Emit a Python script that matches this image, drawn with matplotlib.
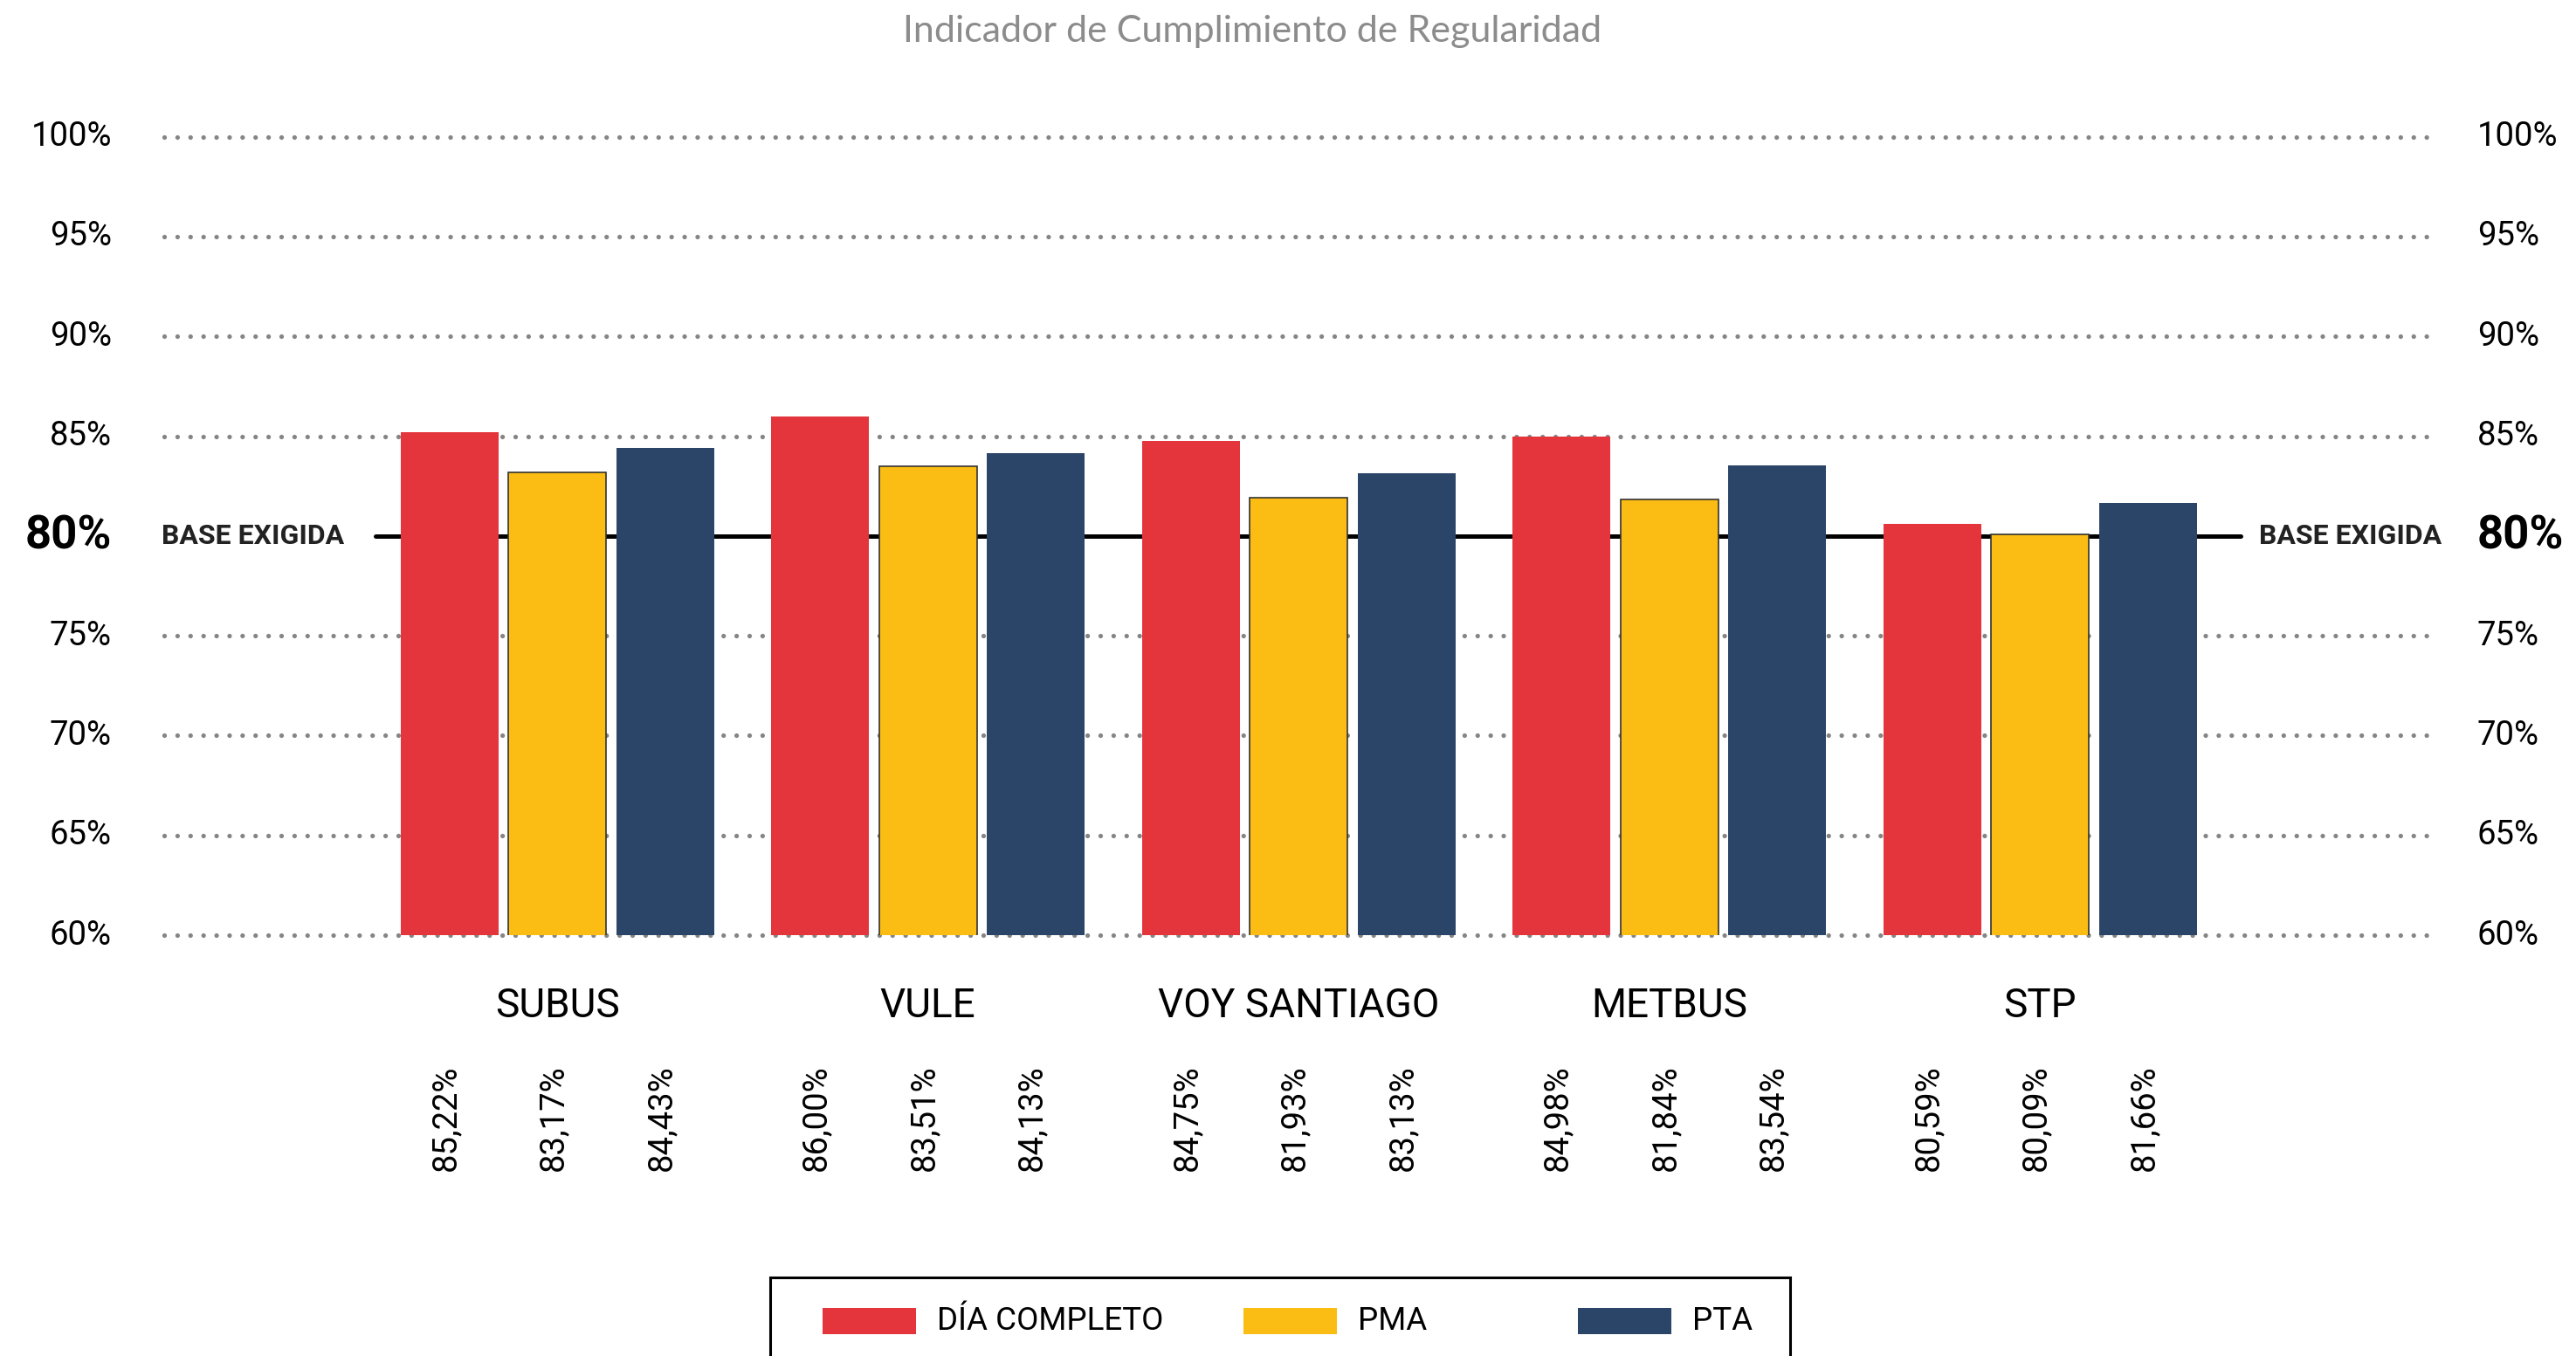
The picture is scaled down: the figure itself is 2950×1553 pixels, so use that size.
import numpy as np
import matplotlib
matplotlib.use('Agg')
import matplotlib.pyplot as plt
from matplotlib.patches import Rectangle

# data
operators = ['SUBUS', 'VULE', 'VOY SANTIAGO', 'METBUS', 'STP']
dia_completo = [85.22, 86.00, 84.75, 84.98, 80.59]
pma = [83.17, 83.51, 81.93, 81.84, 80.09]
pta = [84.43, 84.13, 83.13, 83.54, 81.66]
series_names = ['DÍA COMPLETO', 'PMA', 'PTA']
yticks = [60, 65, 70, 75, 80, 85, 90, 95, 100]
base = 80

colors = ['#E4343C', '#FBBC13', '#2B4568']
fam = ['Roboto', 'DejaVu Sans']

W, H = 2950, 1553
fig = plt.figure(figsize=(W / 100, H / 100), dpi=100)
ax = fig.add_axes([188 / W, 1 - 1071 / H, 2600 / W, (1071 - 156.7) / H])

x = np.arange(len(operators))
bw = 0.2638
step = 0.2909

# dotted grid lines (80% is replaced by the base line)
for t in yticks:
    if t == base:
        continue
    ax.axhline(t, color='#858585', lw=3.8, linestyle=(0, (0.001, 2.82)),
               dash_capstyle='round', clip_on=False, zorder=1)

ax.plot([x[0] - 0.49, x[-1] + 0.54], [base, base], color='black', lw=3.6,
        solid_capstyle='round', zorder=1.5)

for i, (vals, c) in enumerate(zip([dia_completo, pma, pta], colors)):
    ec = '#333333' if i == 1 else c
    lw = 1.2 if i == 1 else 0
    ax.bar(x + (i - 1) * step, vals, width=bw, color=c, edgecolor=ec,
           linewidth=lw, zorder=2)
    for xi, v in zip(x + (i - 1) * step, vals):
        ax.text(xi - 0.01, -0.2286, '{:.2f}%'.format(v).replace('.', ','),
                transform=ax.get_xaxis_transform(), rotation=90,
                ha='center', va='center', fontsize=27.5, family=fam)

for xi, name in zip(x, operators):
    ax.text(xi, -0.1028, name, transform=ax.get_xaxis_transform(),
            ha='center', va='baseline', fontsize=33, family=fam)

ax.set_xlim(-1.060, 5.064)
ax.set_ylim(60, 100)
ax.axis('off')

# y labels on both sides
ytr = ax.get_yaxis_transform()
for t in yticks:
    lab = '{}%'.format(t)
    if t == base:
        kw = dict(fontsize=38, fontweight='bold', family=fam)
    else:
        kw = dict(fontsize=27.5, family=fam)
    ax.text(-0.0231, t, lab, transform=ytr, ha='right', va='center', **kw)
    ax.text(1.0188, t, lab, transform=ytr, ha='left', va='center', **kw)

ax.text(-0.001, base, 'BASE EXIGIDA', transform=ytr, ha='left', va='center',
        fontsize=23, fontweight='bold', color='#222222', family=fam)
ax.text(1.003, base, 'BASE EXIGIDA', transform=ytr, ha='right', va='center',
        fontsize=23, fontweight='bold', color='#222222', family=fam)

fig.text(1434 / W, 1 - 36 / H, 'Indicador de Cumplimiento de Regularidad',
         ha='center', va='center', fontsize=31, color='#8c8c8c',
         family=['Lato', 'DejaVu Sans'])

# legend box, bottom runs past the image edge
lax = fig.add_axes([882 / W, 1 - 1563 / H, 1168 / W, 100 / H])
lax.set_xlim(0, 1168)
lax.set_ylim(0, 100)
lax.set_xticks([])
lax.set_yticks([])
for s in lax.spines.values():
    s.set_linewidth(2.2)
    s.set_color('black')
col_x = [60, 542, 925]
for cx, name, c in zip(col_x, series_names, colors):
    lax.add_patch(Rectangle((cx, 35), 107, 30, color=c, lw=0))
    lax.text(cx + 131, 50, name, ha='left', va='center', fontsize=26.5,
             family=fam)

fig.savefig('out.png', dpi=100)
